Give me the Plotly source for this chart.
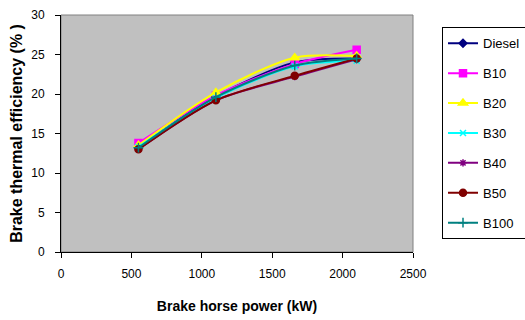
import plotly.graph_objects as go

power = [550, 1100, 1660, 2100]
names = ["Diesel", "B10", "B20", "B30", "B40", "B50", "B100"]
diesel = [13.2, 19.7, 24.0, 24.5]
b10 = [13.8, 19.8, 23.8, 25.6]
b20 = [13.5, 20.2, 24.6, 24.8]
b30 = [13.3, 19.5, 23.5, 24.2]
b40 = [13.0, 19.2, 22.2, 24.4]
b50 = [13.0, 19.2, 22.3, 24.5]
b100 = [13.2, 19.6, 23.6, 24.5]
series = [diesel, b10, b20, b30, b40, b50, b100]

colors = ["#000080", "#FF00FF", "#FFFF00", "#00FFFF", "#800080", "#800000", "#008080"]
symbols = ["diamond", "square", "triangle-up", "x-thin", "asterisk", "circle", "cross-thin"]
sizes = [6, 7, 8, 6, 6, 7, 7]

fig = go.Figure()
for n, ys, c, s, sz in zip(names, series, colors, symbols, sizes):
    fig.add_trace(go.Scatter(
        x=power, y=ys, name=n, mode="lines+markers",
        line=dict(color=c, width=2, shape="spline", smoothing=0.8),
        marker=dict(symbol=s, color=c, size=sz, line=dict(color=c, width=1.5)),
        legendgroup=n,
    ))

fig.update_layout(
    width=525, height=320,
    margin=dict(l=61, r=112, t=15, b=68, autoexpand=False),
    paper_bgcolor="white", plot_bgcolor="#C0C0C0",
    font=dict(family="Liberation Sans, Arial, sans-serif", size=12, color="black"),
    showlegend=True,
    legend=dict(x=(442 - 61) / 352, y=0.948, xanchor="left", yanchor="top",
                bgcolor="white", bordercolor="black", borderwidth=1,
                font=dict(size=13), traceorder="grouped", tracegroupgap=10,
                itemwidth=30),
    xaxis=dict(range=[0, 2500], tickvals=[0, 500, 1000, 1500, 2000, 2500],
               showgrid=False, zeroline=False, showline=True, linecolor="black",
               linewidth=1, ticks="outside", ticklen=5, tickcolor="black",
               ticklabelstandoff=6, automargin=False,
               title=dict(text="<b>Brake horse power (kW)</b>", font=dict(size=14), standoff=20)),
    yaxis=dict(range=[0, 30], tickvals=[0, 5, 10, 15, 20, 25, 30],
               showgrid=False, zeroline=False, showline=True, linecolor="black",
               linewidth=1, ticks="outside", ticklen=5, tickcolor="black",
               ticklabelstandoff=8, automargin=False,
               title=dict(text="<b>Brake thermal efficiency (% )</b>", font=dict(size=16), standoff=4)),
)
fig.add_shape(type="rect", xref="paper", yref="paper", x0=0, y0=0, x1=1, y1=1,
              line=dict(color="#808080", width=1), layer="below")

fig.write_html("out.html")
